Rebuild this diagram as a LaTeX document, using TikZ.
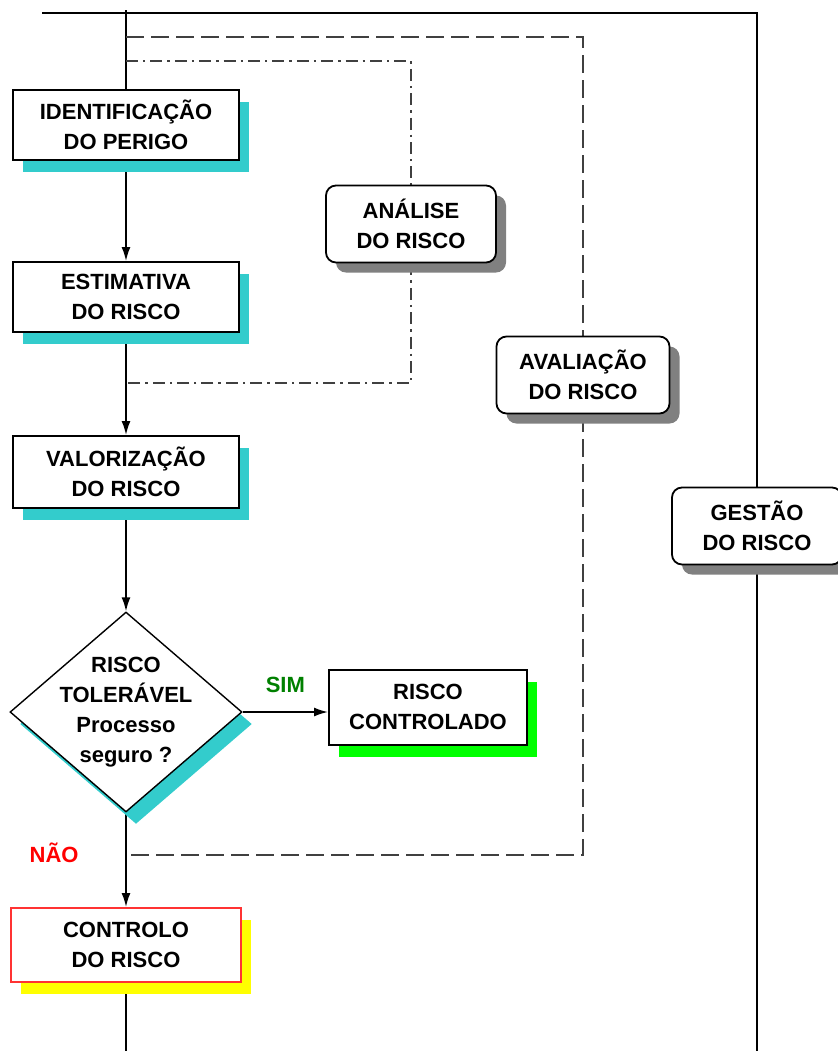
\documentclass[tikz,border=0pt]{standalone}
\usepackage{fontspec}
\setmainfont{Liberation Sans}
\usetikzlibrary{arrows.meta}
\usetikzlibrary{shapes.geometric}
\usetikzlibrary{shadows}
\usetikzlibrary{backgrounds}

\definecolor{sombraazul}{HTML}{33CCCC}
\definecolor{sombraverde}{HTML}{00FF00}
\definecolor{sombraamarela}{HTML}{FFFF00}
\definecolor{sombracinza}{HTML}{808080}
\definecolor{bordavermelha}{HTML}{FF3333}
\definecolor{verdesim}{HTML}{008000}
\definecolor{vermelhonao}{HTML}{FF0000}

\begin{document}
\begin{tikzpicture}[x=0.5pt,y=-0.5pt,
  font=\fontsize{11}{15}\selectfont\bfseries,
  >={Latex[length=7pt,width=4.5pt]},
  linha/.style={line width=0.8pt},
  caixa/.style={draw, line width=1pt, fill=white, align=center, inner sep=0pt,
    minimum width=113pt, minimum height=35pt,
    general shadow={fill=#1, shadow xshift=5pt, shadow yshift=-6pt}},
  caixa/.default=sombraazul,
  decisao/.style={diamond, draw, line width=0.7pt, fill=white, align=center,
    inner sep=-6pt, aspect=1.16, minimum width=116pt, minimum height=100pt,
    general shadow={fill=sombraazul, shadow xshift=5pt, shadow yshift=-6pt}},
  etapa/.style={draw, line width=0.9pt, fill=white, align=center, rounded corners=5pt,
    inner sep=0pt, minimum width=85pt, minimum height=38.5pt,
    general shadow={fill=sombracinza, shadow xshift=5pt, shadow yshift=-5pt}},
  tracejado/.style={draw=black!75, line width=1pt, dash pattern=on 9pt off 3.5pt},
  tracoponto/.style={draw=black!75, line width=0.8pt, dash pattern=on 6pt off 2.5pt on 1.2pt off 2.5pt}
]
\useasboundingbox (0,0) rectangle (838,1051);

% etapas do processo
\node[caixa] (ident) at (126,125) {IDENTIFICAÇÃO\\DO PERIGO};
\node[caixa] (estim) at (126,297) {ESTIMATIVA\\DO RISCO};
\node[caixa, minimum height=36pt] (valor) at (126,472) {VALORIZAÇÃO\\DO RISCO};
\node[decisao] (toler) at (126,712) {RISCO\\TOLERÁVEL\\Processo\\seguro ?};
\node[caixa=sombraverde, minimum width=99pt, minimum height=37.5pt] (contd) at (428,707) {RISCO\\CONTROLADO};
\node[caixa=sombraamarela, draw=bordavermelha, minimum width=115pt, minimum height=37pt] (contr) at (126,945) {CONTROLO\\DO RISCO};

% fases
\node[etapa] (anali) at (411,224) {ANÁLISE\\DO RISCO};
\node[etapa, minimum width=86.5pt] (avali) at (583,375) {AVALIAÇÃO\\DO RISCO};
\node[etapa] (gesta) at (757,526) {GESTÃO\\DO RISCO};

\coordinate (topo) at (126,10);
\coordinate (canto) at (42,13);
\coordinate (base) at (126,1051);
\coordinate (gbase) at (757,1051);
\coordinate (dtopo) at (126,37);
\coordinate (dbase) at (126,855);
\coordinate (ptopo) at (126,61);
\coordinate (pbase) at (126,383);

\begin{scope}[on background layer]
\draw[linha] (canto) -- (gesta.north |- canto) -- (gesta.north);
\draw[linha] (gesta.south) -- (gbase);

\draw[linha] (topo) -- (ident);
\draw[linha,->] (ident) -- (estim);
\draw[linha,->] (estim) -- (valor);
\draw[linha,->] (valor) -- (toler);
\draw[linha,->] (toler) -- (contr) node[pos=0.43,left=20pt,text=vermelhonao]{NÃO};
\draw[linha] (contr) -- (base);
\draw[linha,->] (toler.east) -- (toler.east -| contd.west) node[midway,above=6pt,text=verdesim]{SIM};

\draw[tracejado] (dtopo) -- (dtopo -| avali) -- (avali.north);
\draw[tracejado] (avali.south) -- (avali |- dbase) -- (dbase);
\draw[tracoponto] (ptopo) -- (ptopo -| anali) -- (anali.north);
\draw[tracoponto] (anali.south) -- (anali |- pbase) -- (pbase);
\end{scope}

\end{tikzpicture}
\end{document}
